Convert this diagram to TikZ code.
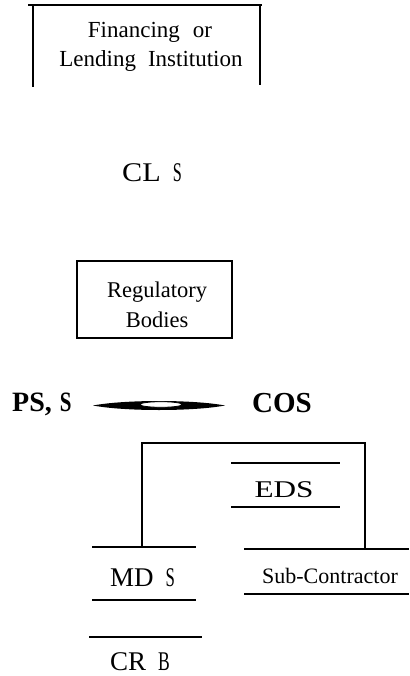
\documentclass[tikz,border=0pt]{standalone}
\usepackage{fontspec}
\setmainfont{Liberation Serif}
\usepackage{graphicx}
\newcommand{\narrow}[2][0.65]{\scalebox{#1}[1]{#2}}
\begin{document}
\begin{tikzpicture}[x=1pt,y=-1pt,
  rulew/.style={line width=2.6pt},
  txt/.style={inner sep=0pt, anchor=base},
  txtw/.style={inner sep=0pt, anchor=base west}]
\useasboundingbox (0,0) rectangle (409,676);

% Financing or Lending Institution (open bottom box)
\node[txt, font=\fontsize{23}{27}\selectfont] (fin1) at (150,38) {Financing\hspace{13pt}or};
\node[txt, font=\fontsize{23}{27}\selectfont] (fin2) at (151,67) {Lending\hspace{12pt}Institution};
\coordinate (finTL) at (28,5);
\coordinate (finTR) at (262,5);
\draw[rulew] (finTL) -- (finTR);
\draw[rulew] (33,5) -- (33,87);
\draw[rulew] (260,5) -- (260,85);

% CL S
\node[txtw, font=\fontsize{27}{30}\selectfont] (cls) at (122,182) {\scalebox{1.12}[1]{CL}\hspace{12pt}\narrow[0.6]{S}};

% Regulatory Bodies
\draw[rulew] (77,261) rectangle (232,338);
\node[txt, font=\fontsize{22.5}{26}\selectfont] (reg1) at (157,297) {Regulatory};
\node[txt, font=\fontsize{22.5}{26}\selectfont] (reg2) at (157,327) {Bodies};

% PS, S  -- lens --  COS
\node[txtw, font=\bfseries\fontsize{28}{30}\selectfont] (ps) at (12,411) {PS,\hspace{8pt}\narrow[0.75]{S}};
\fill[black] (93,405.5) .. controls (125,399.5) and (193,399.5) .. (225,405.5)
             .. controls (193,411.5) and (125,411.5) .. cycle;
\filldraw[fill=white, draw=black, line width=0.8pt] (161,404.5) ellipse (21 and 2.8);
\node[txtw, font=\bfseries\fontsize{29}{30}\selectfont] (cos) at (252,412) {COS};

% bracket connecting MDS and Sub-Contractor
\coordinate (mdsTop) at (142,547);
\coordinate (subTop) at (365,549);
\draw[rulew] (mdsTop) -- (142,443) -- (365,443) -- (subTop);

% EDS
\draw[rulew] (231,463) -- (340,463);
\draw[rulew] (231,507) -- (340,507);
\node[txt, font=\fontsize{24}{26}\selectfont] (eds) at (284,497) {\scalebox{1.3}[1]{EDS}};

% MD S
\draw[rulew] (92,547) -- (196,547);
\draw[rulew] (92,600) -- (196,600);
\node[txtw, font=\fontsize{27}{30}\selectfont] (mds) at (110,586) {MD\hspace{12pt}\narrow[0.62]{S}};

% Sub-Contractor
\draw[rulew] (244,549) -- (409,549);
\draw[rulew] (244,594) -- (409,594);
\node[txt, font=\fontsize{22}{26}\selectfont] (sub) at (330,583) {Sub-Contractor};

% CR B
\draw[rulew] (89,637) -- (202,637);
\node[txtw, font=\fontsize{27}{30}\selectfont] (crb) at (110,670) {CR\hspace{12pt}\narrow[0.65]{B}};
\end{tikzpicture}
\end{document}
